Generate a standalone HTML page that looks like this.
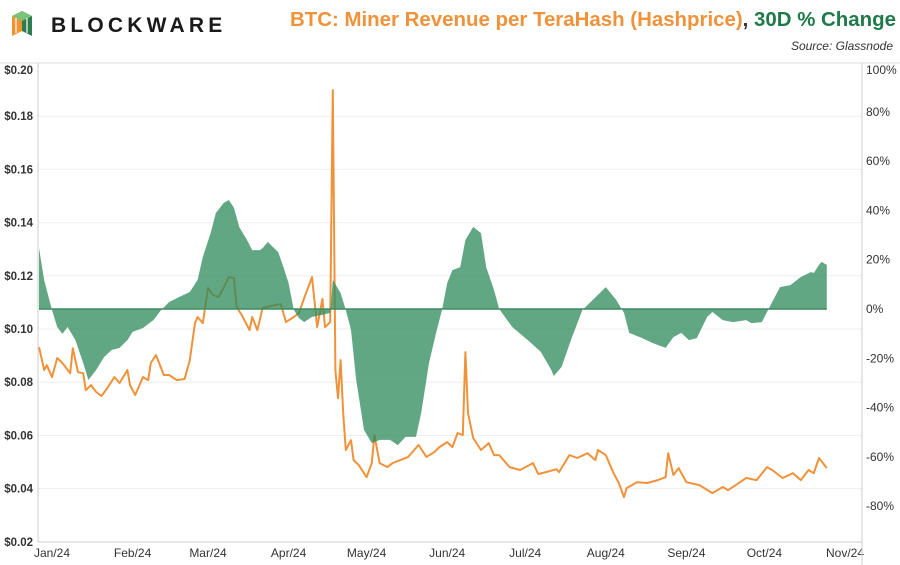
<!DOCTYPE html>
<html><head><meta charset="utf-8"><style>
body{margin:0;background:#fff;font-family:"Liberation Sans",sans-serif}
svg{display:block}
</style></head><body>
<svg id="chart" width="900" height="565" viewBox="0 0 900 565">
  <g>
    <polygon points="12,16 22,11 22,31 12,36" fill="#f29330"/>
    <polygon points="22,11 32,16 32,36 22,31" fill="#2e7d4f"/>
    <polygon points="12,16 22,11 32,16 22,21" fill="#7cc37a"/>
    <line x1="16" y1="18" x2="16" y2="33" stroke="#fff" stroke-width="1.2"/>
    <line x1="27" y1="18" x2="27" y2="33" stroke="#fff" stroke-width="1.2"/>
    <text x="51" y="32" font-size="21" font-weight="bold" letter-spacing="4.2" fill="#1a1a1a">BLOCKWARE</text>
  </g>
  <text x="896" y="26" text-anchor="end" font-size="20.5" font-weight="bold" textLength="606" lengthAdjust="spacingAndGlyphs"><tspan fill="#f0923a">BTC: Miner Revenue per TeraHash (Hashprice)</tspan><tspan fill="#333">, </tspan><tspan fill="#1e7a4a">30D % Change</tspan></text>
  <text x="893" y="50" text-anchor="end" font-size="12" font-style="italic" fill="#333">Source: Glassnode</text>
  <line x1="0" y1="63" x2="900" y2="63" stroke="#ddd" stroke-width="1"/>
  <g id="grid"></g>
  <g id="marks"></g>
  <g id="axes"></g>
</svg>
<script>
const months = ["Jan/24","Feb/24","Mar/24","Apr/24","May/24","Jun/24","Jul/24","Aug/24","Sep/24","Oct/24","Nov/24"];
const monthDays = [0,31,60,91,121,152,182,213,244,274,305];
const leftTicks = [0.20,0.18,0.16,0.14,0.12,0.10,0.08,0.06,0.04,0.02];
const rightTicks = [100,80,60,40,20,0,-20,-40,-60,-80];
const hpDays = [-5,-3,-2,0,2,4,7,8,10,12,13,15,17,19,21,24,26,29,30,32,35,37,38,40,43,45,48,51,53,55,56,58,60,62,64,66,68,70,71,73,76,77,79,81,84,88,90,93,95,97,100,102,104,105,107,108,109,110,111,112,113,115,116,118,121,123,124,126,129,131,134,137,141,144,147,149,152,154,156,158,159,160,162,165,168,170,172,176,180,185,187,190,194,195,199,202,206,209,210,213,216,218,220,221,225,229,233,236,237,239,241,244,249,254,258,260,263,267,271,275,277,281,285,288,291,293,295,298];
const hpValues = [.0932,.0846,.0864,.0819,.0891,.0872,.0834,.0928,.0838,.0834,.0770,.0789,.0763,.0748,.0774,.0819,.0797,.0846,.0789,.0752,.0819,.0808,.0872,.0902,.0827,.0827,.0808,.0812,.0883,.1022,.1045,.1022,.1154,.1128,.1120,.1154,.1195,.1191,.1083,.1052,.0996,.1045,.0996,.1079,.1086,.1094,.1026,.1045,.1060,.1116,.1195,.1007,.1113,.1007,.1026,.1898,.0846,.0740,.0883,.0684,.0545,.0582,.0507,.0488,.0443,.0496,.0601,.0496,.0481,.0496,.0507,.0519,.0564,.0519,.0537,.0556,.0575,.0556,.0609,.0601,.0913,.0684,.0590,.0545,.0571,.0526,.0526,.0481,.0470,.0496,.0455,.0462,.0473,.0462,.0526,.0515,.0533,.0507,.0545,.0526,.0458,.0421,.0368,.0402,.0424,.0421,.0432,.0443,.0533,.0451,.0477,.0424,.0413,.0383,.0406,.0394,.0413,.0440,.0432,.0481,.0470,.0440,.0458,.0432,.0470,.0458,.0515,.0477];
const chgDays = [-5,-3,0,2,4,6,9,12,14,17,20,23,26,29,31,35,39,42,45,49,53,56,58,61,63,66,68,70,72,75,77,80,81,83,87,89,91,93,95,97,100,104,107,108,111,113,115,117,120,123,126,130,133,136,140,142,145,148,150,152,154,157,159,162,165,167,170,172,177,183,188,192,193,196,200,204,208,213,217,220,222,227,231,236,239,242,245,248,252,254,258,262,267,269,273,276,280,284,288,292,293,295,296,298];
const chgValues = [24.7,11.7,-0.4,-7.3,-10.1,-7.3,-12.6,-21.9,-28.8,-24.7,-19.5,-16.6,-15.8,-12.6,-9.3,-7.7,-4.5,-0.4,2.8,4.9,6.9,11.8,21.1,30.8,38.9,43.0,44.2,41.0,33.3,28.0,23.9,23.9,24.7,27.2,23.1,17.0,10.5,-0.4,-3.7,-5.3,-3.2,-2.4,-1.6,11.8,6.5,-0.4,-8.5,-28.8,-49.1,-54.4,-53.1,-53.1,-55.2,-51.9,-51.9,-42.2,-21.9,-8.5,-0.4,10.5,15.8,17.0,28.0,33.3,30.8,17.0,7.7,0,-7.3,-12.6,-17.4,-24.7,-27.2,-23.5,-11.4,-0.4,3.7,8.9,3.7,-1.6,-9.7,-11.8,-13.8,-15.8,-11.4,-9.7,-12.6,-11.8,-3.2,-1.2,-4.5,-5.3,-4.5,-5.7,-5.3,0.8,8.9,9.7,13.0,15.0,14.6,17.9,19.1,17.9];

const NS="http://www.w3.org/2000/svg";
const L=38,R=862,T=63,B=542;
const xS=d=>52+d*2.6;
const yL=v=>T+(0.20-v)/0.02*53.2;
const yR=p=>309-p/20*49.3;
function mk(tag,attrs,parent){const e=document.createElementNS(NS,tag);for(const k in attrs)e.setAttribute(k,attrs[k]);parent.appendChild(e);return e;}
const grid=document.getElementById('grid'),marks=document.getElementById('marks'),axes=document.getElementById('axes');

leftTicks.forEach(v=>{
  const y=yL(v);
  if(v<0.20&&v>0.02){const g=mk('line',{x1:L,x2:R,y1:y,y2:y,stroke:'#eeeeee','stroke-width':1},grid);
  
  }
  const t=mk('text',{x:33,y:Math.max(y,70)+4,'text-anchor':'end','font-size':11.5,'font-weight':'bold',fill:'#333'},axes);
  t.textContent='$'+v.toFixed(2);
  
  
});
rightTicks.forEach(p=>{
  const y=yR(p);
  const t=mk('text',{x:866,y:Math.max(y,70)+4,'font-size':12,fill:'#333'},axes);
  t.textContent=p+'%';
  
  
});
months.forEach((m,i)=>{
  const t=mk('text',{x:xS(monthDays[i]),y:557,'text-anchor':'middle','font-size':12,fill:'#333'},axes);
  t.textContent=m;
  
  
});
const ax1=mk('line',{x1:L,x2:L,y1:T,y2:B,stroke:'#ccc'},axes);


const ax2=mk('line',{x1:R,x2:R,y1:T,y2:565,stroke:'#ccc'},axes);


const ax3=mk('line',{x1:L,x2:R,y1:B,y2:B,stroke:'#ccc'},axes);



let d='';hpDays.forEach((dd,i)=>{d+=(i?'L':'M')+xS(dd).toFixed(1)+','+yL(hpValues[i]).toFixed(1);});
const hp=mk('path',{d:d,fill:'none',stroke:'#f0923a','stroke-width':2,'stroke-linejoin':'round'},marks);



const z=yR(0);
let a='M'+xS(chgDays[0]).toFixed(1)+','+z;
chgDays.forEach((dd,i)=>{a+='L'+xS(dd).toFixed(1)+','+yR(chgValues[i]).toFixed(1);});
a+='L'+xS(chgDays[chgDays.length-1]).toFixed(1)+','+z+'Z';
const ar=mk('path',{d:a,fill:'#2e8a5a','fill-opacity':0.75},marks);


const zl=mk('line',{x1:xS(chgDays[0]),x2:xS(chgDays[chgDays.length-1]),y1:z,y2:z,stroke:'#3f8a63','stroke-width':1.5},marks);


</script>
</body></html>
